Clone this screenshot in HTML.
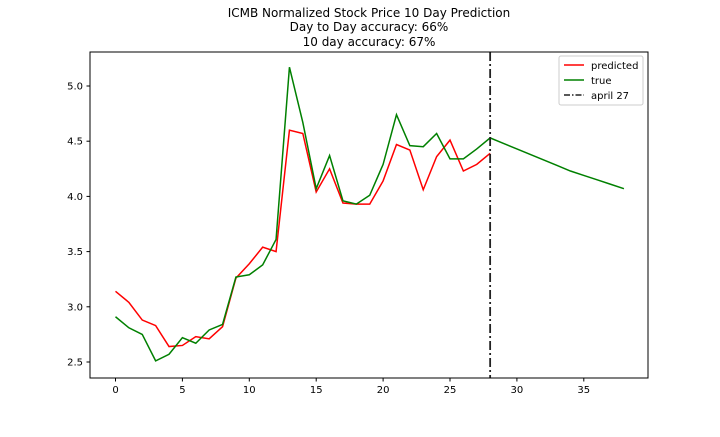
<!DOCTYPE html>
<html><head><meta charset="utf-8"><style>
body{margin:0;background:#fff;}
svg text{font-family:"DejaVu Sans","Liberation Sans",sans-serif;fill:#000;}
</style></head><body>
<svg id="c" width="720" height="432">
<text x="369" y="17" font-size="12" text-anchor="middle">ICMB Normalized Stock Price 10 Day Prediction</text>
<text x="369" y="31" font-size="12" text-anchor="middle">Day to Day accuracy: 66%</text>
<text x="369" y="46" font-size="12" text-anchor="middle">10 day accuracy: 67%</text>
<g id="ticks"></g>
<g id="series"></g>
<rect x="90" y="52" width="558" height="326" fill="none" stroke="#000" stroke-width="1"/>
<g>
<rect x="559" y="56" width="84" height="49" fill="#fff" stroke="#ccc" rx="2"/>
<line x1="564" y1="65" x2="584" y2="65" stroke="red" stroke-width="1.5"/>
<text x="591" y="69" font-size="10">predicted</text>
<line x1="564" y1="80" x2="584" y2="80" stroke="green" stroke-width="1.5"/>
<text x="591" y="84" font-size="10">true</text>
<line x1="564" y1="95" x2="584" y2="95" stroke="#222" stroke-width="1.5" stroke-dasharray="6,2,1.5,2"/>
<text x="591" y="99" font-size="10">april 27</text>
</g>
</svg>
<script>
const predicted=[3.14,3.04,2.88,2.83,2.64,2.65,2.73,2.71,2.82,3.26,3.39,3.54,3.50,4.60,4.57,4.04,4.25,3.94,3.93,3.93,4.14,4.47,4.42,4.06,4.36,4.51,4.23,4.29,4.39];
const trueVals=[2.91,2.81,2.75,2.51,2.57,2.72,2.67,2.79,2.84,3.27,3.29,3.38,3.61,5.17,4.67,4.07,4.37,3.96,3.93,4.01,4.29,4.74,4.46,4.45,4.57,4.34,4.34,4.43,4.53,4.48,4.43,4.38,4.33,4.28,4.23,4.19,4.15,4.11,4.07];
const xTicks=[0,5,10,15,20,25,30,35];
const yTicks=[2.5,3.0,3.5,4.0,4.5,5.0];
const markerX=28;
const NS='http://www.w3.org/2000/svg';
const X=v=>115.5+v*13.38;
const Y=v=>362-(v-2.5)*110.4;
function mk(t,a,p){const e=document.createElementNS(NS,t);for(const k in a)e.setAttribute(k,a[k]);p.appendChild(e);return e;}
const tg=document.getElementById('ticks');
xTicks.forEach(v=>{
  const l=mk('line',{x1:X(v),x2:X(v),y1:378,y2:381.5,stroke:'#000'},tg);
  
  
  const t=mk('text',{x:X(v),y:393,'font-size':10,'text-anchor':'middle'},tg);t.textContent=v;
  
  
});
yTicks.forEach(v=>{
  const l=mk('line',{x1:86.5,x2:90,y1:Y(v),y2:Y(v),stroke:'#000'},tg);
  
  
  const t=mk('text',{x:83,y:Y(v)+3.5,'font-size':10,'text-anchor':'end'},tg);t.textContent=v.toFixed(1);
  
  
});
const sg=document.getElementById('series');
const pts=a=>a.map((v,i)=>X(i)+','+Y(v)).join(' ');
const pl=mk('polyline',{points:pts(predicted),fill:'none',stroke:'red','stroke-width':1.5},sg);


const tl=mk('polyline',{points:pts(trueVals),fill:'none',stroke:'green','stroke-width':1.5},sg);


const vl=mk('line',{x1:X(markerX),x2:X(markerX),y1:52,y2:378,stroke:'#222','stroke-width':1.8,'stroke-dasharray':'9,3,2,3'},sg);


</script>
</body></html>
